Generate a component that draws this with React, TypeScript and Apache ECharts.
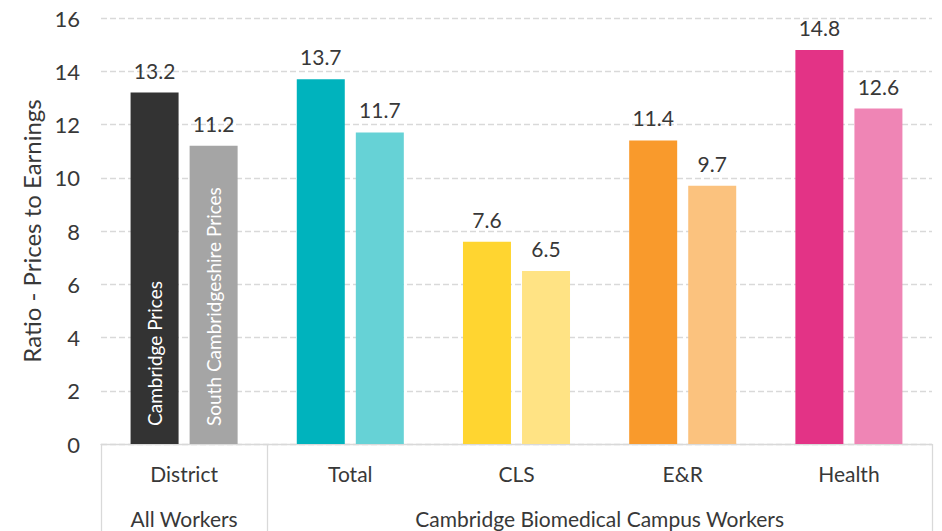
import React, { useEffect, useRef } from 'react';
import * as echarts from 'echarts';

// Worker groups along the x axis
const categories = ['District', 'Total', 'CLS', 'E&R', 'Health'];
const groupNames = ['All Workers', 'Cambridge Biomedical Campus Workers'];
const groupSizes = [1, 4];

// Price-to-earnings ratios
const seriesNames = ['Cambridge Prices', 'South Cambridgeshire Prices'];
const cambridgeValues = [13.2, 13.7, 7.6, 11.4, 14.8];
const southCambsValues = [11.2, 11.7, 6.5, 9.7, 12.6];

// Colour per worker group: strong tone for Cambridge, light tone for South Cambs
const cambridgeColors = ['#333333', '#00B3BD', '#FFD530', '#F99A2C', '#E33386'];
const southCambsColors = ['#A5A5A5', '#66D2D6', '#FFE384', '#FBC27E', '#EF85B5'];

const yMin = 0;
const yMax = 16;
const yInterval = 2;

const FONT = 'Lato, "Noto Sans", sans-serif';
const TEXT = '#383838';
const LINE = '#D9D9D9';

function barPair(name: string, values: number[], colors: string[], stack: string) {
  const main = {
    type: 'bar',
    name,
    stack,
    barWidth: 48,
    barGap: '23%',
    data: values.map((v, i) => ({
      value: v,
      itemStyle: { color: colors[i] },
      label:
        i === 0
          ? {
              show: true,
              position: 'insideBottom',
              rotate: 90,
              align: 'left',
              verticalAlign: 'middle',
              distance: 18,
              color: '#FFFFFF',
              fontFamily: FONT,
              fontSize: 19,
              formatter: name,
            }
          : { show: false },
    })),
  };
  // zero-height cap on the same stack carries the value label above each bar
  const cap = {
    type: 'bar',
    name: name + ' value',
    stack,
    barWidth: 48,
    barGap: '23%',
    silent: true,
    itemStyle: { color: 'transparent' },
    data: values.map(() => 0),
    label: {
      show: true,
      position: 'top',
      distance: 12,
      color: TEXT,
      fontFamily: FONT,
      fontSize: 21,
      formatter: (p: any) => values[p.dataIndex].toFixed(1),
    },
  };
  return [main, cap];
}

export default function App() {
  const ref = useRef<HTMLDivElement>(null);

  useEffect(() => {
    if (!ref.current) return;
    const chart = echarts.init(ref.current, undefined, { renderer: 'svg' });

    const bounds = groupSizes.reduce<number[]>((acc, n) => [...acc, acc[acc.length - 1] + n], [0]);
    const mids = groupSizes.map((n, i) => bounds[i] + n / 2);

    chart.setOption({
      animation: false,
      textStyle: { fontFamily: FONT },
      grid: { left: 101, right: 10, top: 18, bottom: 87, containLabel: false },
      xAxis: [
        {
          type: 'category',
          data: categories,
          axisLine: { show: true, lineStyle: { color: LINE, width: 1.3 } },
          axisTick: { show: false },
          axisLabel: { margin: 19, color: TEXT, fontSize: 21, fontFamily: FONT },
        },
        {
          type: 'value',
          min: 0,
          max: categories.length,
          position: 'bottom',
          splitLine: { show: false },
          axisLine: { show: false },
          axisTick: {
            show: true,
            customValues: bounds,
            length: 90,
            lineStyle: { color: LINE, width: 1.3 },
          },
          axisLabel: {
            customValues: mids,
            margin: 64,
            color: TEXT,
            fontSize: 21,
            fontFamily: FONT,
            formatter: (v: number) => groupNames[mids.indexOf(v)] ?? '',
          },
        },
      ],
      yAxis: {
        type: 'value',
        min: yMin,
        max: yMax,
        interval: yInterval,
        name: 'Ratio - Prices to Earnings',
        nameLocation: 'middle',
        nameGap: 57,
        nameTextStyle: { color: TEXT, fontSize: 24, fontFamily: FONT },
        axisLine: { show: false },
        axisTick: { show: false },
        axisLabel: { margin: 21, color: TEXT, fontSize: 22, fontFamily: FONT },
        splitLine: { lineStyle: { color: LINE, type: [6, 3], width: 1.3 } },
      },
      series: [
        ...barPair(seriesNames[0], cambridgeValues, cambridgeColors, 'cam'),
        ...barPair(seriesNames[1], southCambsValues, southCambsColors, 'scam'),
      ],
    });

    return () => chart.dispose();
  }, []);

  return (
    <div
      ref={ref}
      style={{ position: 'fixed', left: 0, top: 0, width: 942, height: 531, background: '#FFFFFF' }}
    />
  );
}
